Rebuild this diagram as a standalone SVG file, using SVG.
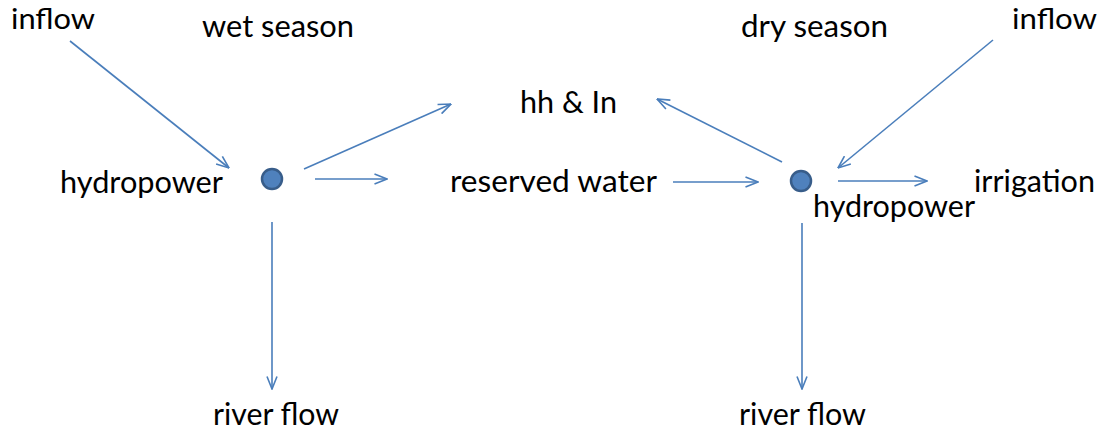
<svg xmlns="http://www.w3.org/2000/svg" width="1105" height="436" viewBox="0 0 1105 436">
<defs>
<style>
.t{font-family:Lato,"Open Sans","Liberation Sans",sans-serif;font-size:31px;fill:#000}
.s{font-size:29px}
.c{stroke:#4a7ebb;stroke-width:1.6;fill:none}
.n{fill:#4f81bd;stroke:#385d8a;stroke-width:2.5}
</style>
<marker id="ah" viewBox="0 0 14 12" refX="13.5" refY="6" markerWidth="14" markerHeight="12" markerUnits="userSpaceOnUse" orient="auto">
<path d="M1,1 L13.5,6 L1,11" fill="none" stroke="#4a7ebb" stroke-width="1.6"/>
</marker>
</defs>
<rect width="1105" height="436" fill="#fff"/>
<g id="connectors">
<line class="c" x1="70" y1="41" x2="229" y2="168" marker-end="url(#ah)"/>
<line class="c" x1="304" y1="169" x2="451" y2="104" marker-end="url(#ah)"/>
<line class="c" x1="315" y1="179" x2="387" y2="179" marker-end="url(#ah)"/>
<line class="c" x1="272" y1="222" x2="272" y2="389" marker-end="url(#ah)"/>
<line class="c" x1="673" y1="182" x2="758" y2="182" marker-end="url(#ah)"/>
<line class="c" x1="782" y1="162" x2="657" y2="99" marker-end="url(#ah)"/>
<line class="c" x1="993" y1="40" x2="838" y2="168" marker-end="url(#ah)"/>
<line class="c" x1="838" y1="181" x2="927" y2="181" marker-end="url(#ah)"/>
<line class="c" x1="802" y1="223" x2="802" y2="389" marker-end="url(#ah)"/>
</g>
<g id="hydro-wet"><circle class="n" cx="272" cy="179" r="10"/><text class="t" x="60" y="193" textLength="163" lengthAdjust="spacingAndGlyphs">hydropower</text></g>
<g id="hydro-dry"><circle class="n" cx="801" cy="181" r="10"/><text class="t" x="813" y="217" textLength="162" lengthAdjust="spacingAndGlyphs">hydropower</text></g>
<g id="inflow-left"><text class="t s" x="11" y="29" textLength="84" lengthAdjust="spacingAndGlyphs">inflow</text></g>
<g id="wet-season"><text class="t" x="202" y="37" textLength="152" lengthAdjust="spacingAndGlyphs">wet season</text></g>
<g id="dry-season"><text class="t" x="741" y="37" textLength="147" lengthAdjust="spacingAndGlyphs">dry season</text></g>
<g id="inflow-right"><text class="t s" x="1012" y="29" textLength="85" lengthAdjust="spacingAndGlyphs">inflow</text></g>
<g id="hh-in"><text class="t" x="520" y="113" textLength="97" lengthAdjust="spacingAndGlyphs">hh &amp; In</text></g>
<g id="reserved-water"><text class="t" x="450" y="192" textLength="207" lengthAdjust="spacingAndGlyphs">reserved water</text></g>
<g id="irrigation"><text class="t" x="974" y="192" textLength="121" lengthAdjust="spacingAndGlyphs">irrigation</text></g>
<g id="river-flow-left"><text class="t" x="213" y="425" textLength="126" lengthAdjust="spacingAndGlyphs">river flow</text></g>
<g id="river-flow-right"><text class="t" x="739" y="425" textLength="127" lengthAdjust="spacingAndGlyphs">river flow</text></g>
</svg>
